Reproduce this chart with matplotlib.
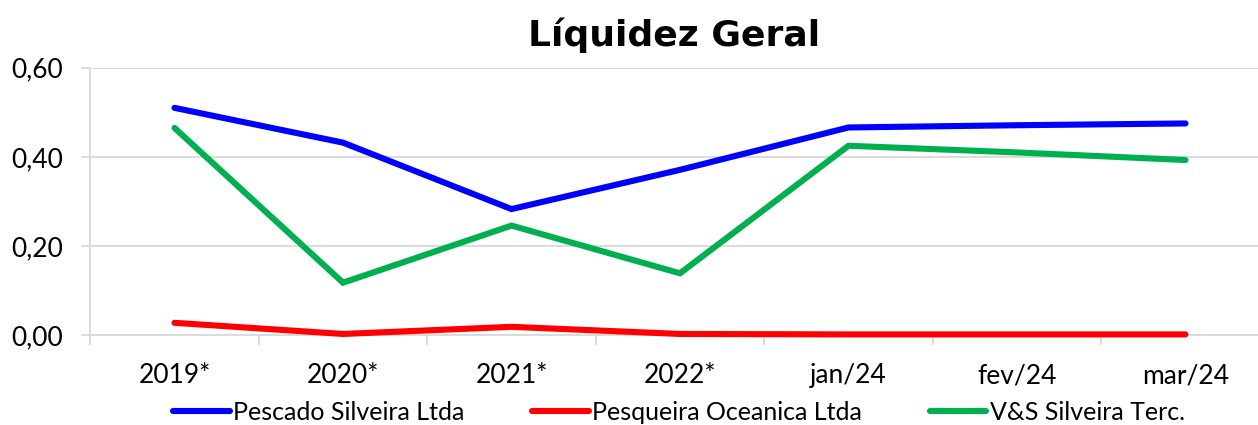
import matplotlib
matplotlib.use("Agg")
import matplotlib.pyplot as plt
from matplotlib.ticker import FuncFormatter
import numpy as np

categories = ["2019*", "2020*", "2021*", "2022*", "jan/24", "fev/24", "mar/24"]
pescado = [0.510, 0.432, 0.283, 0.371, 0.466, 0.471, 0.475]
pesqueira = [0.028, 0.003, 0.019, 0.003, 0.002, 0.002, 0.002]
vs_silveira = [0.465, 0.118, 0.246, 0.139, 0.425, 0.410, 0.393]

series_names = ["Pescado Silveira Ltda", "Pesqueira Oceanica Ltda", "V&S Silveira Terc."]
series_colors = ["#0000ff", "#ff0000", "#00b050"]

plt.rcParams["font.family"] = ["Lato", "DejaVu Sans"]

fig = plt.figure(figsize=(12.58, 4.25), dpi=100)
W, H = 1258, 425
# axes box: left spine at x=90, bottom at y=335, top (0.60) at y=68
ax = fig.add_axes([90.25 / W, 1 - 335.3 / H, 1179.5 / W, (335.3 - 67.7) / H])

x = np.arange(len(categories))
for vals, name, col in zip([pescado, pesqueira, vs_silveira], series_names, series_colors):
    ax.plot(x, vals, color=col, lw=4.4, solid_capstyle="round",
            solid_joinstyle="miter", label=name, zorder=3, clip_on=False)

ax.set_xlim(-0.5, len(categories) - 0.5)
ax.set_ylim(0, 0.6)
ax.set_yticks([0, 0.2, 0.4, 0.6])
ax.yaxis.set_major_formatter(FuncFormatter(lambda v, p: f"{v:.2f}".replace(".", ",")))
ax.grid(axis="y", color="#d9d9d9", lw=1.3, zorder=0)

ax.set_xticks(x)
ax.set_xticklabels(categories)
ax.set_xticks(np.arange(len(categories) + 1) - 0.5, minor=True)
ax.tick_params(axis="x", which="major", length=0, pad=20, labelsize=19)
ax.tick_params(axis="x", which="minor", length=7, width=1.3, color="#d9d9d9")
ax.tick_params(axis="y", length=6.5, width=1.3, color="#d9d9d9", pad=13, labelsize=19)

for side in ["top", "right"]:
    ax.spines[side].set_visible(False)
for side in ["left", "bottom"]:
    ax.spines[side].set_color("#d9d9d9")
    ax.spines[side].set_linewidth(1.3)

fig.text(674 / W, 1 - 35 / H, "Líquidez Geral", ha="center", va="center",
         fontsize=26, fontweight="bold", family="DejaVu Sans")

fig.legend(loc="center", bbox_to_anchor=(679 / W, 1 - 412 / H), ncol=3, frameon=False,
           fontsize=18, handlelength=2.25, handletextpad=0.15, columnspacing=2.7,
           borderaxespad=0, borderpad=0)

fig.savefig("out.png", dpi=100)
